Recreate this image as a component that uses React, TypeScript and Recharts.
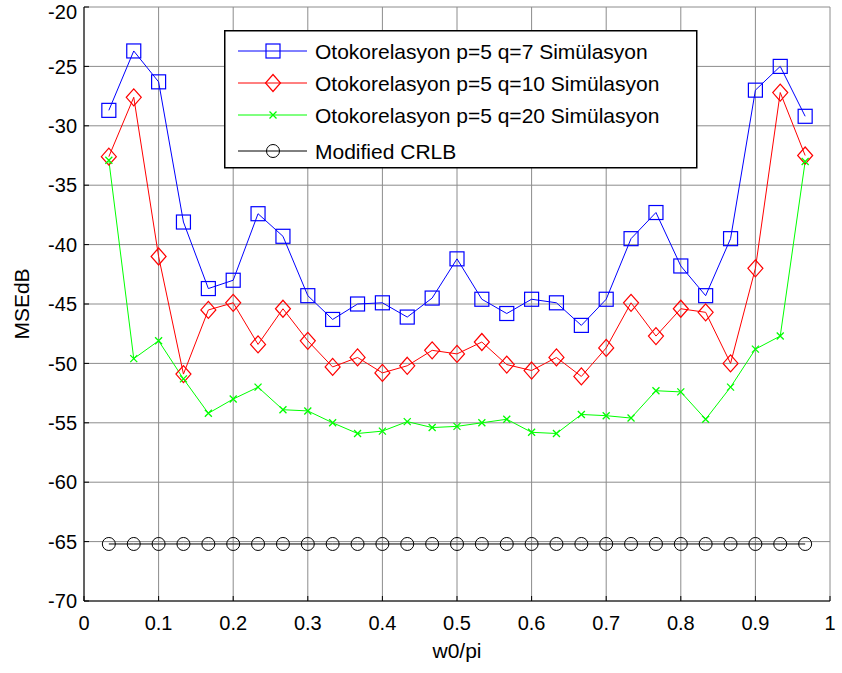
import { LineChart, Line, XAxis, YAxis, CartesianGrid, Legend } from "recharts"

// Normalised frequency grid (w0/pi)
const w0 = [
  0.0333, 0.0667, 0.1, 0.1333, 0.1667, 0.2, 0.2333, 0.2667, 0.3, 0.3333,
  0.3667, 0.4, 0.4333, 0.4667, 0.5, 0.5333, 0.5667, 0.6, 0.6333, 0.6667,
  0.7, 0.7333, 0.7667, 0.8, 0.8333, 0.8667, 0.9, 0.9333, 0.9667,
]

// MSE in dB for each simulation run
const q7 = [
  -28.7, -23.7, -26.3, -38.1, -43.7, -43.0, -37.4, -39.3, -44.3, -46.3,
  -45.0, -44.9, -46.1, -44.5, -41.2, -44.6, -45.8, -44.6, -44.9, -46.8,
  -44.6, -39.5, -37.3, -41.8, -44.3, -39.5, -27.0, -25.0, -29.2,
]
const q10 = [
  -32.6, -27.6, -41.0, -50.9, -45.5, -44.9, -48.4, -45.4, -48.1, -50.3,
  -49.5, -50.8, -50.2, -48.9, -49.2, -48.2, -50.1, -50.6, -49.5, -51.1,
  -48.7, -44.9, -47.7, -45.4, -45.7, -50.0, -42.0, -27.2, -32.5,
]
const q20 = [
  -32.9, -49.6, -48.1, -51.3, -54.2, -53.0, -52.0, -53.9, -54.0, -55.0,
  -55.9, -55.7, -54.9, -55.4, -55.3, -55.0, -54.7, -55.8, -55.9, -54.3,
  -54.4, -54.6, -52.3, -52.4, -54.7, -52.0, -48.8, -47.7, -33.0,
]
const crlb = [
  -65.2, -65.2, -65.2, -65.2, -65.2, -65.2, -65.2, -65.2, -65.2, -65.2,
  -65.2, -65.2, -65.2, -65.2, -65.2, -65.2, -65.2, -65.2, -65.2, -65.2,
  -65.2, -65.2, -65.2, -65.2, -65.2, -65.2, -65.2, -65.2, -65.2,
]

const xTicks = [0, 0.1, 0.2, 0.3, 0.4, 0.5, 0.6, 0.7, 0.8, 0.9, 1]
const yTicks = [-70, -65, -60, -55, -50, -45, -40, -35, -30, -25, -20]

type Marker = "square" | "diamond" | "cross" | "circle"

const series: { key: string; name: string; color: string; marker: Marker }[] = [
  { key: "q7", name: "Otokorelasyon p=5 q=7 Simülasyon", color: "#0000ff", marker: "square" },
  { key: "q10", name: "Otokorelasyon p=5 q=10 Simülasyon", color: "#ff0000", marker: "diamond" },
  { key: "q20", name: "Otokorelasyon p=5 q=20 Simülasyon", color: "#00ff00", marker: "cross" },
  { key: "crlb", name: "Modified CRLB", color: "#000000", marker: "circle" },
]

const data = w0.map((w, i) => ({ w, q7: q7[i], q10: q10[i], q20: q20[i], crlb: crlb[i] }))

const FONT = '"Liberation Sans", Arial, sans-serif'

function markerShape(type: Marker, cx: number, cy: number, color: string, key?: string | number) {
  switch (type) {
    case "square":
      return <rect key={key} x={cx - 7} y={cy - 7} width={14} height={14} fill="none" stroke={color} strokeWidth={1.2} />
    case "diamond":
      return (
        <path
          key={key}
          d={`M${cx},${cy - 8.5}L${cx + 7.5},${cy}L${cx},${cy + 8.5}L${cx - 7.5},${cy}Z`}
          fill="none"
          stroke={color}
          strokeWidth={1.2}
        />
      )
    case "cross":
      return (
        <path
          key={key}
          d={`M${cx - 3.5},${cy - 3.5}L${cx + 3.5},${cy + 3.5}M${cx + 3.5},${cy - 3.5}L${cx - 3.5},${cy + 3.5}`}
          stroke={color}
          strokeWidth={1.3}
        />
      )
    default:
      return <circle key={key} cx={cx} cy={cy} r={6.5} fill="none" stroke={color} strokeWidth={1} />
  }
}

function LegendBox() {
  const rows = [21, 53, 85, 121]
  return (
    <svg width={474} height={139} style={{ display: "block" }}>
      <rect x={0.75} y={0.75} width={472} height={137} fill="#fff" stroke="#000" strokeWidth={1.5} />
      {series.map((s, i) => (
        <g key={s.key}>
          <line x1={14} x2={83} y1={rows[i]} y2={rows[i]} stroke={s.color} strokeWidth={1} />
          {markerShape(s.marker, 49, rows[i], s.color)}
          <text x={91} y={rows[i] + 8} fontSize={21} fontFamily={FONT} fill="#000">
            {s.name}
          </text>
        </g>
      ))}
    </svg>
  )
}

export default function App() {
  return (
    <div style={{ position: "absolute", left: 0, top: 0, background: "#fff" }}>
      <LineChart width={842} height={673} data={data} margin={{ top: 7, right: 12, bottom: 0, left: 0 }}>
        <CartesianGrid stroke="#8c8c8c" strokeWidth={1} />
        <XAxis
          dataKey="w"
          type="number"
          domain={[0, 1]}
          ticks={xTicks}
          height={72}
          stroke="#000"
          tickSize={-5}
          tickMargin={20}
          tick={{ fill: "#000", fontSize: 20, fontFamily: FONT }}
          label={{ value: "w0/pi", position: "insideBottom", offset: 15, fill: "#000", fontSize: 21, fontFamily: FONT }}
        />
        <XAxis
          xAxisId="top"
          orientation="top"
          dataKey="w"
          type="number"
          domain={[0, 1]}
          ticks={xTicks}
          height={0}
          stroke="#000"
          tickSize={-5}
          tick={false}
        />
        <YAxis
          type="number"
          domain={[-70, -20]}
          ticks={yTicks}
          width={84}
          stroke="#000"
          tickSize={-5}
          tickMargin={12}
          tick={{ fill: "#000", fontSize: 20, fontFamily: FONT }}
          label={{
            value: "MSEdB",
            angle: -90,
            position: "insideLeft",
            offset: 22,
            fill: "#000",
            fontSize: 21,
            fontFamily: FONT,
            style: { textAnchor: "middle" },
          }}
        />
        <YAxis
          yAxisId="right"
          orientation="right"
          type="number"
          domain={[-70, -20]}
          ticks={yTicks}
          width={0}
          stroke="#000"
          tickSize={-5}
          tick={false}
        />
        <Legend
          layout="vertical"
          align="center"
          verticalAlign="middle"
          content={() => <LegendBox />}
          wrapperStyle={{ left: 224, top: 30, width: 474, height: 139 }}
        />
        {series.map((s) => (
          <Line
            key={s.key}
            dataKey={s.key}
            name={s.name}
            stroke={s.color}
            strokeWidth={1}
            isAnimationActive={false}
            dot={(p: any) => markerShape(s.marker, p.cx, p.cy, s.color, `${s.key}-${p.index}`)}
            activeDot={false}
          />
        ))}
      </LineChart>
    </div>
  )
}
